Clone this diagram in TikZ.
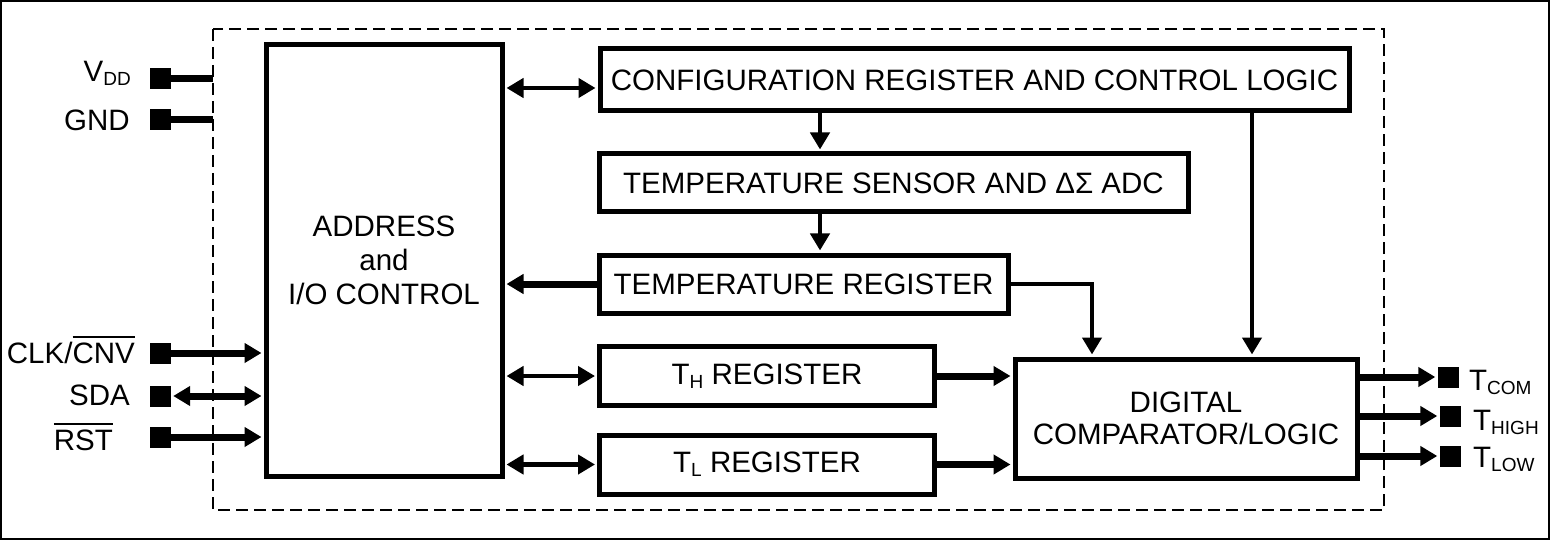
\documentclass[tikz,border=0pt]{standalone}
\usepackage{fontspec}
\setmainfont{Liberation Sans}
\usetikzlibrary{arrows.meta}
\newcommand{\sbs}[1]{\raisebox{-4pt}{\fontsize{19}{19}\selectfont #1}}
\newcommand{\ovl}[1]{\setbox0\hbox{#1}\rlap{\rule[25pt]{\wd0}{2pt}}\box0}
\begin{document}
\begin{tikzpicture}[x=1pt,y=-1pt,
  every node/.style={font=\fontsize{29.5}{34}\selectfont, inner sep=0pt},
  box/.style={draw, line width=5pt, rectangle, align=center},
  ln/.style={line width=4.5pt},
  thk/.style={line width=7pt},
  tip/.style={-{Triangle[length=17pt,width=19pt]}, shorten >=2pt},
  dtip/.style={{Triangle[length=17pt,width=19pt]}-{Triangle[length=17pt,width=19pt]}, shorten >=2pt, shorten <=2pt},
  pin/.style={fill, minimum size=21pt, inner sep=0pt}]
\useasboundingbox (0,0) rectangle (1550,540);
\draw[line width=2pt] (1,1) rectangle (1549,539);
\draw[line width=2pt, dash pattern=on 12pt off 6pt] (213,29) rectangle (1384,510);

% boxes
\node[box, minimum width=236pt, minimum height=431pt] (addr) at (384,260.5) {ADDRESS\\and\\I/O CONTROL};
\node[box, minimum width=749pt, minimum height=62pt] (config) at (974.5,80) {CONFIGURATION REGISTER AND CONTROL LOGIC};
\node[box, minimum width=589pt, minimum height=58pt] (sensor) at (893.5,183) {TEMPERATURE SENSOR AND ΔΣ ADC};
\node[box, minimum width=409pt, minimum height=58pt] (treg) at (803.5,284) {TEMPERATURE REGISTER};
\node[box, minimum width=335pt, minimum height=59pt] (threg) at (767,376) {T\sbs{H} REGISTER};
\node[box, minimum width=335pt, minimum height=59pt] (tlreg) at (767,464.5) {T\sbs{L} REGISTER};
\node[box, minimum width=342pt, minimum height=119pt, font=\fontsize{29.5}{32}\selectfont] (comp) at (1186,418.5) {DIGITAL\\COMPARATOR/LOGIC};

% pins
\node[pin] (pvdd) at (160.5,79) {};
\node[pin] (pgnd) at (160.5,120) {};
\node[pin] (pclk) at (160.5,353) {};
\node[pin] (psda) at (160.5,396) {};
\node[pin] (prst) at (160.5,437) {};
\node[pin] (ptcom) at (1448,377) {};
\node[pin] (pthigh) at (1450,416) {};
\node[pin] (ptlow) at (1450,456) {};

% labels
\node[anchor=base east] (lvdd) at (131,82) {V\sbs{DD}};
\node[anchor=base east] (lgnd) at (130,131) {GND};
\node[anchor=base east] (lclk) at (135,363) {CLK/\ovl{CNV}};
\node[anchor=base east] (lsda) at (130,405) {SDA};
\node[anchor=base east] (lrst) at (113,450) {\ovl{RST}};
\node[anchor=base west] (ltcom) at (1469,390) {T\sbs{COM}};
\node[anchor=base west] (lthigh) at (1473,430) {T\sbs{HIGH}};
\node[anchor=base west] (ltlow) at (1473,467) {T\sbs{LOW}};

% helper coordinates
\coordinate (bx) at (213,0);
\coordinate (c88) at (0,88);
\coordinate (c820) at (820,0);
\coordinate (c1092) at (1092,0);
\coordinate (c1252) at (1252,0);

% left connectors
\draw[thk] (pvdd.center) -- (pvdd -| bx);
\draw[thk] (pgnd.center) -- (pgnd -| bx);
\draw[thk,tip] (pclk.east) -- (pclk -| addr.west);
\draw[thk,dtip] (psda.east) -- (psda -| addr.west);
\draw[thk,tip] (prst.east) -- (prst -| addr.west);

% internal connectors
\draw[ln,dtip] (addr.east |- c88) -- (config.west |- c88);
\draw[ln,tip] (config.south -| c820) -- (sensor.north -| c820);
\draw[ln,tip] (sensor.south -| c820) -- (treg.north -| c820);
\draw[thk,tip] (treg.west) -- (addr.east |- treg.west);
\draw[ln,tip] (treg.east) -| (comp.north -| c1092);
\draw[ln,tip] (config.south -| c1252) -- (comp.north -| c1252);
\draw[ln,dtip] (addr.east |- threg.west) -- (threg.west);
\draw[thk,tip] (threg.east) -- (comp.west |- threg.east);
\draw[ln,dtip] (addr.east |- tlreg.west) -- (tlreg.west);
\draw[thk,tip] (tlreg.east) -- (comp.west |- tlreg.east);

% outputs
\draw[thk,tip] (comp.east |- ptcom) -- (ptcom.west);
\draw[thk,tip] (comp.east |- pthigh) -- (pthigh.west);
\draw[thk,tip] (comp.east |- ptlow) -- (ptlow.west);
\end{tikzpicture}
\end{document}
